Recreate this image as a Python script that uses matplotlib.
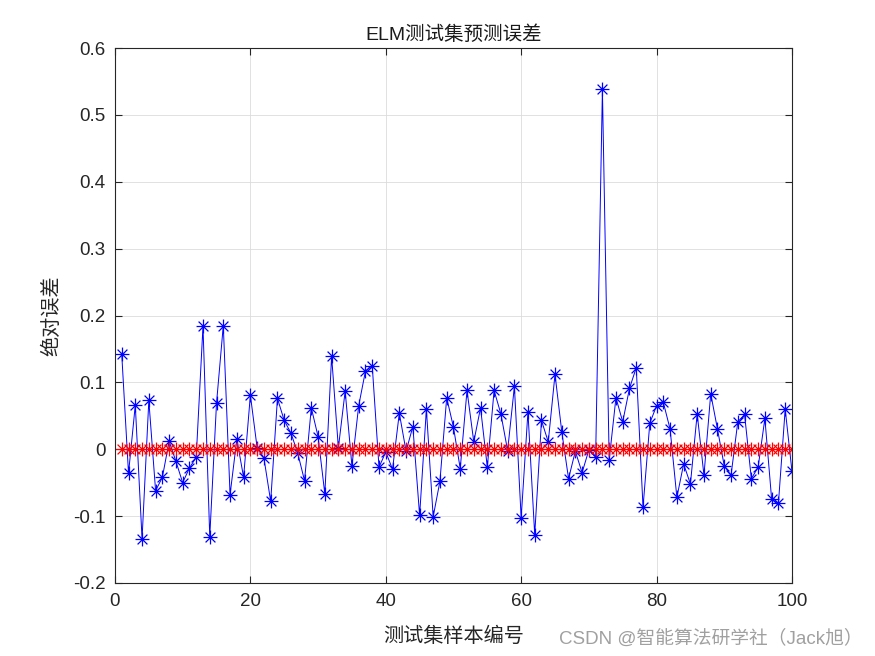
import matplotlib.pyplot as plt
import numpy as np
from matplotlib.path import Path

plt.rcParams['font.family'] = ['Liberation Sans', 'Noto Sans CJK SC', 'DejaVu Sans']

errors = [0.142, -0.036, 0.066, -0.134, 0.073, -0.062, -0.042, 0.012, -0.018, -0.050,
          -0.028, -0.012, 0.184, -0.131, 0.069, 0.185, -0.068, 0.015, -0.042, 0.081,
          0.002, -0.013, -0.078, 0.076, 0.043, 0.024, -0.006, -0.047, 0.062, 0.019,
          -0.067, 0.139, 0.002, 0.087, -0.025, 0.065, 0.117, 0.125, -0.027, -0.004,
          -0.030, 0.054, -0.003, 0.034, -0.099, 0.060, -0.101, -0.048, 0.077, 0.033,
          -0.029, 0.088, 0.011, 0.062, -0.027, 0.088, 0.053, -0.002, 0.094, -0.103,
          0.056, -0.128, 0.043, 0.011, 0.112, 0.026, -0.044, -0.003, -0.035, -0.001,
          -0.012, 0.538, -0.016, 0.077, 0.041, 0.091, 0.122, -0.087, 0.039, 0.065,
          0.070, 0.030, -0.072, -0.022, -0.052, 0.053, -0.039, 0.083, 0.030, -0.025,
          -0.039, 0.041, 0.052, -0.044, -0.027, 0.046, -0.075, -0.081, 0.060, -0.033]
samples = np.arange(1, len(errors) + 1)
zeros = np.zeros(len(errors))

# MATLAB style asterisk: + and x combined
d = 0.7071
star = Path([(-1, 0), (1, 0), (0, -1), (0, 1), (-d, -d), (d, d), (-d, d), (d, -d)],
            [Path.MOVETO, Path.LINETO] * 4)

fig = plt.figure(figsize=(8.75, 6.56), dpi=100)
ax = fig.add_axes([0.1314, 0.1113, 0.7737, 0.8155])

ax.plot(samples, errors, color='blue', linewidth=0.7, marker=star, markersize=10,
        markeredgewidth=0.9, markerfacecolor='none')
ax.plot(samples, zeros, color='red', linewidth=0.7, marker=star, markersize=10,
        markeredgewidth=0.9, markerfacecolor='none')

ax.set_xlim(0, 100)
ax.set_ylim(-0.2, 0.6)
ax.set_xticks(np.arange(0, 101, 20))
ax.set_yticks(np.arange(-0.2, 0.61, 0.1))
ax.set_yticklabels(['-0.2', '-0.1', '0', '0.1', '0.2', '0.3', '0.4', '0.5', '0.6'])
ax.grid(True, color='#dcdcdc', linewidth=0.6)
ax.set_axisbelow(True)
ax.tick_params(direction='in', top=True, right=True, labelsize=13.5, length=5, width=0.8,
               colors='#262626', pad=7)
for s in ax.spines.values():
    s.set_color('#262626')
    s.set_linewidth(0.8)

ax.set_title('ELM测试集预测误差', fontsize=14, color='#1a1a1a', pad=6)
ax.set_xlabel('测试集样本编号', fontsize=14.5, color='#262626', labelpad=12)
ax.set_ylabel('绝对误差', fontsize=14.5, color='#262626', labelpad=8)

fig.text(0.986, 0.013, 'CSDN @智能算法研学社（Jack旭）', ha='right', va='bottom',
         fontsize=13.5, color='#a0a0a0')

fig.savefig('out.png', dpi=100, facecolor='white')
